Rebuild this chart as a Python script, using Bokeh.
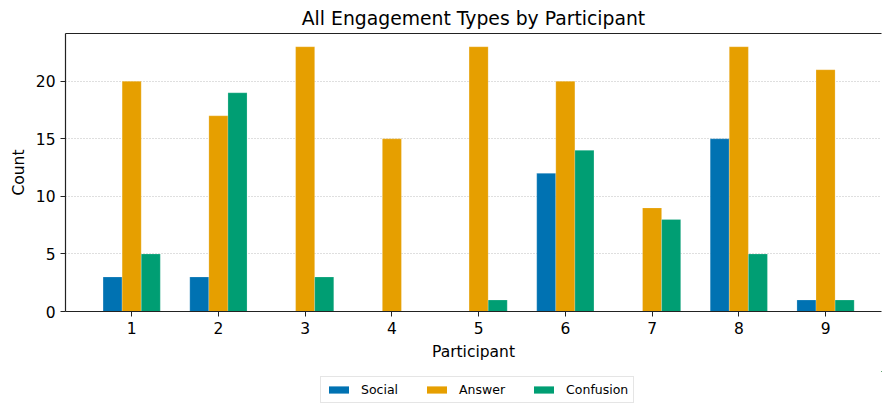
from bokeh.plotting import figure
from bokeh.models import ColumnDataSource, FixedTicker, Legend, LegendItem, LinearAxis, Range1d
from bokeh.layouts import column
from bokeh.transform import dodge
from bokeh.embed import file_html
from bokeh.resources import INLINE

participants = [1, 2, 3, 4, 5, 6, 7, 8, 9]
social = [3, 3, 0, 0, 0, 12, 0, 15, 1]
answer = [20, 17, 23, 15, 23, 20, 9, 23, 21]
confusion = [5, 19, 3, 0, 1, 14, 8, 5, 1]
series_names = ["Social", "Answer", "Confusion"]
colors = ["#0072B2", "#E69F00", "#009E73"]
y_ticks = [0, 5, 10, 15, 20]

FONT = "DejaVu Sans"
bar_w = 0.22

src = ColumnDataSource(dict(x=participants, Social=social, Answer=answer, Confusion=confusion))

p = figure(width=882, height=371, output_backend="svg", toolbar_location=None,
           x_range=Range1d(0.237, 9.645), y_range=Range1d(0, 24.15),
           min_border_left=65, min_border_right=1, min_border_top=33, min_border_bottom=60)

p.title.text = "All Engagement Types by Participant"
p.title.align = "center"
p.title.text_font = FONT
p.title.text_font_size = "18.8px"
p.title.text_font_style = "normal"
p.title.text_color = "#000000"
p.title.offset = 5

offsets = [-bar_w, 0, bar_w]
for name, col, off in zip(series_names, colors, offsets):
    p.vbar(x=dodge("x", off, range=p.x_range), top=name, width=bar_w, source=src,
           fill_color=col, line_color="white", line_width=0.5, line_alpha=0.4)

p.outline_line_color = None
p.xgrid.grid_line_color = None
p.ygrid.ticker = FixedTicker(ticks=y_ticks)
p.ygrid.grid_line_color = "#b0b0b0"
p.ygrid.grid_line_dash = "1 2"
p.ygrid.grid_line_alpha = 0.8

for ax in (p.xaxis[0], p.yaxis[0]):
    ax.axis_line_color = "#222222"
    ax.axis_line_width = 1.2
    ax.major_tick_line_color = "#222222"
    ax.major_tick_in = 0
    ax.major_tick_out = 5
    ax.minor_tick_line_color = None
    ax.major_label_text_font = FONT
    ax.major_label_text_font_size = "15.5px"
    ax.major_label_text_color = "#000000"
    ax.axis_label_text_font = FONT
    ax.axis_label_text_font_size = "15.5px"
    ax.axis_label_text_font_style = "normal"
    ax.axis_label_text_color = "#000000"

p.xaxis[0].ticker = FixedTicker(ticks=participants)
p.xaxis[0].axis_label = "Participant"
p.xaxis[0].axis_label_standoff = 6
p.yaxis[0].ticker = FixedTicker(ticks=y_ticks)
p.yaxis[0].axis_label = "Count"
p.yaxis[0].axis_label_standoff = 5

top_axis = LinearAxis(ticker=FixedTicker(ticks=[]), axis_line_color="#222222", axis_line_width=1.2,
                      major_tick_line_color=None, minor_tick_line_color=None)
p.add_layout(top_axis, "above")

# legend strip below the chart (its zero-width bars lie outside its visible range; only the legend shows)
lf = figure(width=882, height=32, output_backend="svg", toolbar_location=None,
            x_range=Range1d(-200, -199), y_range=Range1d(-200, -199),
            min_border_left=0, min_border_right=0, min_border_top=0, min_border_bottom=0)
lf.axis.visible = False
lf.grid.visible = False
lf.outline_line_color = None
leg_renderers = [lf.vbar(x="x", top=name, width=0, source=src, fill_color=c, line_color=None)
                 for name, c in zip(series_names, colors)]
legend = Legend(items=[LegendItem(label=n, renderers=[r]) for n, r in zip(series_names, leg_renderers)],
                orientation="horizontal", location=(255, 0),
                label_text_font=FONT, label_text_font_size="12.5px", label_text_color="#000000",
                glyph_width=25, glyph_height=9, label_standoff=10, spacing=26,
                padding=5, margin=0, border_line_color="#cccccc", border_line_width=1,
                background_fill_alpha=0.8)
lf.add_layout(legend, "center")

layout = column(p, lf, spacing=0)
open("out.html", "w").write(file_html(layout, INLINE))
